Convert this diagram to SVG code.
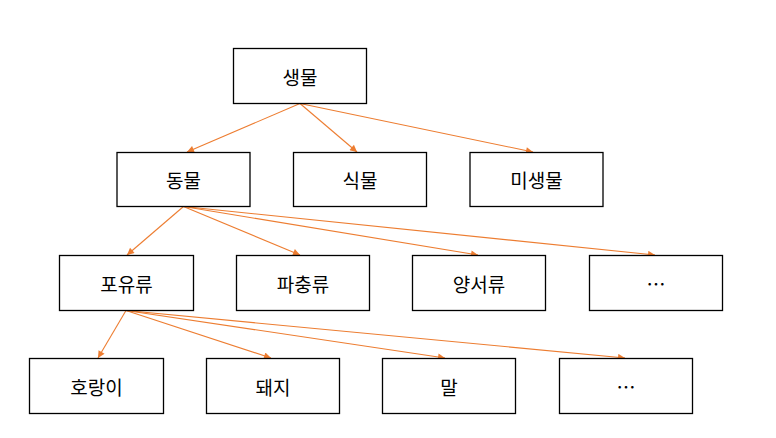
<svg xmlns="http://www.w3.org/2000/svg" width="776" height="438" viewBox="0 0 776 438">
<defs>
<style>
.box{fill:#fff;stroke:#000;stroke-width:1.3}
.lbl{font-family:"Noto Sans CJK KR","Liberation Sans",sans-serif;font-size:19px;fill:#000;text-anchor:middle;dominant-baseline:central}
.edge{stroke:#ED7D31;stroke-width:1.1;fill:none;marker-end:url(#ah)}
</style>
<marker id="ah" viewBox="0 0 10 10" refX="10" refY="5" markerWidth="9" markerHeight="7" markerUnits="userSpaceOnUse" orient="auto">
<path d="M0,0 L10,5 L0,10 z" fill="#ED7D31"/>
</marker>
</defs>
<rect width="776" height="438" fill="#fff"/>
<g id="connectors">
<line class="edge" x1="300" y1="103.5" x2="187" y2="152"/>
<line class="edge" x1="300" y1="103.5" x2="357" y2="152"/>
<line class="edge" x1="300" y1="103.5" x2="533" y2="152"/>
<line class="edge" x1="183.5" y1="206.5" x2="127" y2="255"/>
<line class="edge" x1="183.5" y1="206.5" x2="300" y2="255"/>
<line class="edge" x1="183.5" y1="206.5" x2="478" y2="255"/>
<line class="edge" x1="183.5" y1="206.5" x2="655" y2="255"/>
<line class="edge" x1="126" y1="310.5" x2="98" y2="358"/>
<line class="edge" x1="126" y1="310.5" x2="271" y2="358"/>
<line class="edge" x1="126" y1="310.5" x2="445" y2="358"/>
<line class="edge" x1="126" y1="310.5" x2="625" y2="358"/>
</g>
<g id="n-saengmul"><rect class="box" x="233.5" y="48.5" width="133" height="55"/><text class="lbl" x="300" y="76">생물</text></g>
<g id="n-dongmul"><rect class="box" x="117" y="152.5" width="133" height="54"/><text class="lbl" x="183.5" y="179.5">동물</text></g>
<g id="n-sikmul"><rect class="box" x="293.5" y="152.5" width="133" height="54"/><text class="lbl" x="360" y="179.5">식물</text></g>
<g id="n-misaengmul"><rect class="box" x="470" y="152.5" width="133" height="54"/><text class="lbl" x="536.5" y="179.5">미생물</text></g>
<g id="n-poyuryu"><rect class="box" x="59.5" y="255.5" width="134" height="55"/><text class="lbl" x="126.5" y="283">포유류</text></g>
<g id="n-pachungryu"><rect class="box" x="236.5" y="255.5" width="133" height="55"/><text class="lbl" x="303" y="283">파충류</text></g>
<g id="n-yangseoryu"><rect class="box" x="412.5" y="255.5" width="133" height="55"/><text class="lbl" x="479" y="283">양서류</text></g>
<g id="n-etc1"><rect class="box" x="589.5" y="255.5" width="133" height="55"/><text class="lbl" x="656" y="283">…</text></g>
<g id="n-horangi"><rect class="box" x="29.5" y="358.5" width="134" height="55"/><text class="lbl" x="96.5" y="386">호랑이</text></g>
<g id="n-dwaeji"><rect class="box" x="206.5" y="358.5" width="133" height="55"/><text class="lbl" x="273" y="386">돼지</text></g>
<g id="n-mal"><rect class="box" x="382.5" y="358.5" width="133" height="55"/><text class="lbl" x="449" y="386">말</text></g>
<g id="n-etc2"><rect class="box" x="559.5" y="358.5" width="133" height="55"/><text class="lbl" x="626" y="386">…</text></g>
</svg>
